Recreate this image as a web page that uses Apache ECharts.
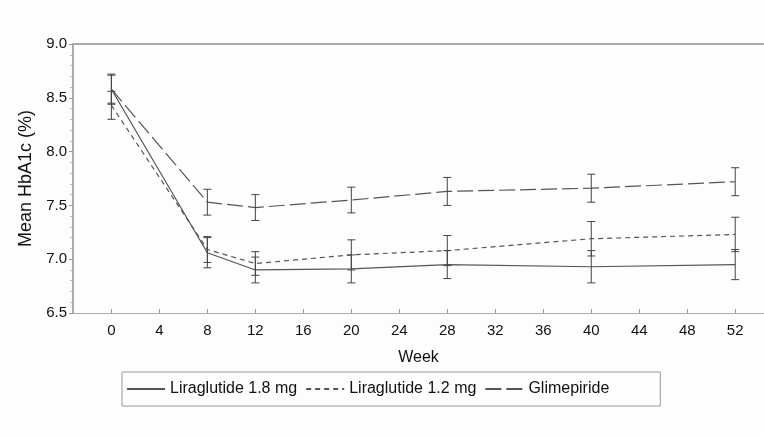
<!DOCTYPE html>
<html><head><meta charset="utf-8">
<script src="https://cdn.jsdelivr.net/npm/echarts@6/dist/echarts.min.js"></script>
<style>html,body{margin:0;padding:0;background:#fdfdfd}#c{width:764px;height:436px}</style>
</head><body><div id="c"></div>
<script>
const weeks = [0, 8, 12, 20, 28, 40, 52];
const xTicks = [0, 4, 8, 12, 16, 20, 24, 28, 32, 36, 40, 44, 48, 52];
const lira18 = [8.58, 7.06, 6.90, 6.91, 6.95, 6.93, 6.95];
const lira18Err = [0.13, 0.14, 0.12, 0.13, 0.13, 0.15, 0.14];
const lira12 = [8.43, 7.09, 6.96, 7.04, 7.08, 7.19, 7.23];
const lira12Err = [0.13, 0.12, 0.11, 0.14, 0.14, 0.16, 0.16];
const glim = [8.58, 7.53, 7.48, 7.55, 7.63, 7.66, 7.72];
const glimErr = [0.14, 0.12, 0.12, 0.12, 0.13, 0.13, 0.13];
const names = ['Liraglutide 1.8 mg', 'Liraglutide 1.2 mg', 'Glimepiride'];

const font = 'Liberation Sans, Arial, sans-serif';
const lineColor = '#555';

function errData(vals, errs) {
  return weeks.map((w, i) => [w, vals[i] - errs[i], vals[i] + errs[i]]);
}
function errRender(params, api) {
  const x = api.value(0);
  const lo = api.coord([x, api.value(1)]);
  const hi = api.coord([x, api.value(2)]);
  const hw = 4;
  const st = {stroke: '#444', lineWidth: 1};
  return {type: 'group', children: [
    {type: 'line', shape: {x1: lo[0], y1: lo[1], x2: hi[0], y2: hi[1]}, style: st},
    {type: 'line', shape: {x1: lo[0]-hw, y1: lo[1], x2: lo[0]+hw, y2: lo[1]}, style: st},
    {type: 'line', shape: {x1: hi[0]-hw, y1: hi[1], x2: hi[0]+hw, y2: hi[1]}, style: st}
  ]};
}
function lineSeries(name, vals, dash) {
  return {name, type: 'line', data: weeks.map((w, i) => [w, vals[i]]), symbol: 'none',
    lineStyle: {color: lineColor, width: 1.2, type: dash}, itemStyle: {color: lineColor}, z: 3};
}
const chart = echarts.init(document.getElementById('c'));
chart.setOption({
  backgroundColor: '#fdfdfd',
  animation: false,
  grid: {left: 73, top: 44, right: 0, bottom: 123},
  legend: {
    data: names, left: 122, top: 372, orient: 'horizontal',
    borderColor: '#999', borderWidth: 1, borderRadius: 0,
    padding: [9, 51, 9, 4], itemGap: 8, itemWidth: 38, itemHeight: 16,
    itemStyle: {opacity: 0},
    textStyle: {fontFamily: font, fontSize: 16, color: '#111'}
  },
  xAxis: [{
    type: 'value', min: -3.2, max: 54.4, position: 'bottom',
    name: 'Week', nameLocation: 'middle', nameGap: 37,
    nameTextStyle: {fontFamily: font, fontSize: 16, color: '#111'},
    axisLine: {show: true, onZero: false, lineStyle: {color: '#aaa', width: 1}},
    axisTick: {show: true, inside: true, length: 4, customValues: xTicks, lineStyle: {color: '#999'}},
    axisLabel: {customValues: xTicks, fontFamily: font, fontSize: 15, color: '#111', margin: 10},
    splitLine: {show: false}
  }, {
    type: 'value', min: -3.2, max: 54.4, position: 'top',
    axisLine: {show: true, onZero: false, lineStyle: {color: '#aaa', width: 2}},
    axisTick: {show: false}, axisLabel: {show: false}, splitLine: {show: false}
  }],
  yAxis: {
    type: 'value', min: 6.5, max: 9.0, interval: 0.5,
    name: 'Mean HbA1c (%)', nameLocation: 'middle', nameGap: 36,
    nameTextStyle: {fontFamily: font, fontSize: 18, color: '#111'},
    axisLine: {show: true, onZero: false, lineStyle: {color: '#aaa', width: 2}},
    axisTick: {show: true, length: 4, lineStyle: {color: '#999'}},
    minorTick: {show: true, splitNumber: 5, length: 3, lineStyle: {color: '#bbb'}},
    axisLabel: {formatter: v => v.toFixed(1), fontFamily: font, fontSize: 15, color: '#111', margin: 6},
    splitLine: {show: false}
  },
  series: [
    lineSeries(names[0], lira18, 'solid'),
    lineSeries(names[1], lira12, [5, 4]),
    lineSeries(names[2], glim, [16, 5]),
    {type: 'custom', renderItem: errRender, data: errData(lira18, lira18Err), encode: {x: 0, y: [1, 2]}, z: 4},
    {type: 'custom', renderItem: errRender, data: errData(lira12, lira12Err), encode: {x: 0, y: [1, 2]}, z: 4},
    {type: 'custom', renderItem: errRender, data: errData(glim, glimErr), encode: {x: 0, y: [1, 2]}, z: 4}
  ]
});
</script></body></html>
